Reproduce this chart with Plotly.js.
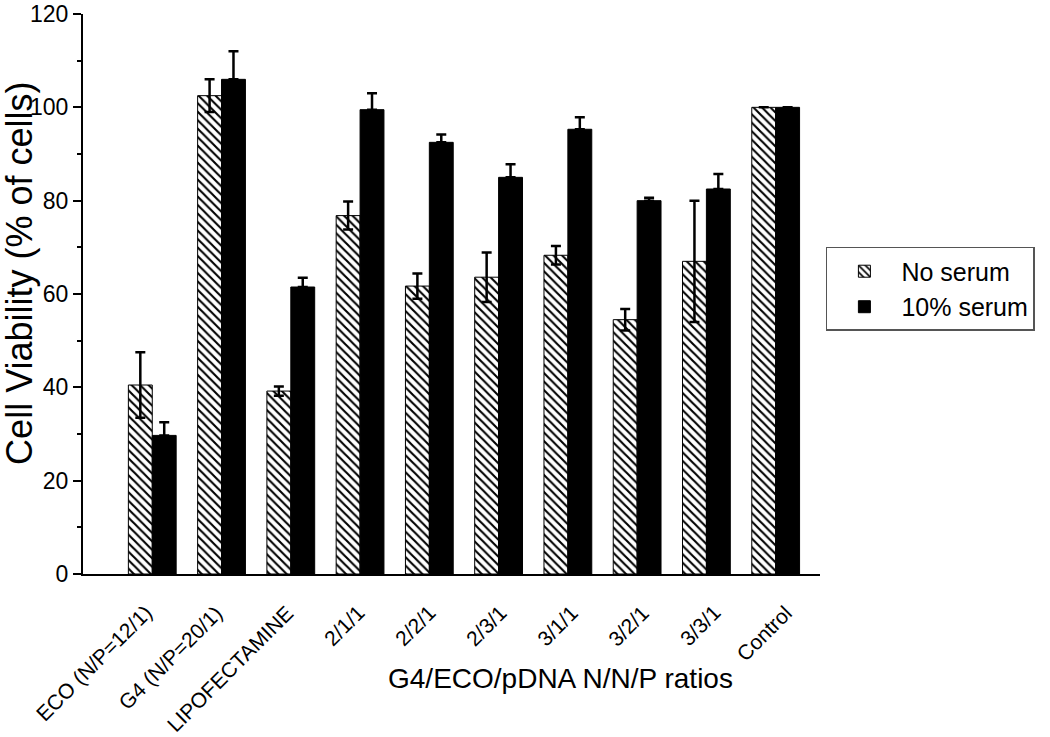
<!DOCTYPE html>
<html>
<head>
<meta charset="utf-8">
<script src="https://cdn.plot.ly/plotly-3.0.1.min.js"></script>
<style>
  html, body { margin: 0; padding: 0; background: #fff; }
  #plot { width: 1050px; height: 737px; }
</style>
</head>
<body>
<div id="plot"></div>
<script>
// categories and values
const groups = ['ECO (N/P=12/1)', 'G4 (N/P=20/1)', 'LIPOFECTAMINE', '2/1/1', '2/2/1',
                '2/3/1', '3/1/1', '3/2/1', '3/3/1', 'Control'];
const noSerum = [40.5, 102.5, 39.2, 76.8, 61.7, 63.6, 68.3, 54.5, 67.0, 100];
const noSerumErr = [7.0, 3.5, 1.0, 3.0, 2.7, 5.3, 2.0, 2.3, 13.0, 0];
const serum10 = [29.7, 106.0, 61.5, 99.5, 92.5, 85.0, 95.3, 80.0, 82.5, 100];
const serum10Err = [2.8, 6.0, 2.0, 3.5, 1.7, 2.8, 2.6, 0.6, 3.2, 0];
const zeros = serum10.map(() => 0);

const font = 'Liberation Sans, Arial, sans-serif';

const errStyle = { color: '#000', thickness: 2.5, width: 5 };

const hatched = {
  x: groups,
  y: noSerum,
  type: 'bar',
  name: 'No serum',
  marker: {
    color: '#fff',
    line: { color: '#000', width: 1 },
    pattern: { shape: '\\', fgcolor: '#000', bgcolor: '#fff', size: 6, solidity: 0.35 }
  },
  error_y: Object.assign({ type: 'data', array: noSerumErr, visible: true }, errStyle)
};

const solid = {
  x: groups,
  y: serum10,
  type: 'bar',
  name: '10% serum',
  marker: { color: '#000', line: { color: '#000', width: 1 } },
  error_y: Object.assign({ type: 'data', symmetric: false, array: serum10Err, arrayminus: zeros, visible: true }, errStyle)
};

// category labels: rotated, their upper end just right of each group
const tickNotes = groups.map((g, i) => ({
  x: g, xref: 'x', y: -0.043, yref: 'paper',
  xanchor: 'right', yanchor: 'top', xshift: 6 + 1.9 * i,
  text: g, textangle: -45, showarrow: false,
  font: { size: 21, family: font, color: '#000' }
}));

const titleNotes = [
  {
    x: 0.648, xref: 'paper', y: -0.186, yref: 'paper',
    xanchor: 'center', yanchor: 'middle', showarrow: false,
    text: 'G4/ECO/pDNA N/N/P ratios',
    font: { size: 28, family: font, color: '#000' }
  },
  {
    x: -0.087, xref: 'paper', y: 0.5375, yref: 'paper',
    xanchor: 'center', yanchor: 'middle', showarrow: false,
    text: 'Cell Viability (% of cells)', textangle: -90,
    font: { size: 36, family: font, color: '#000' }
  }
];

const layout = {
  width: 1050,
  height: 737,
  margin: { l: 83, r: 230, t: 14, b: 163 },
  paper_bgcolor: '#fff',
  plot_bgcolor: '#fff',
  font: { family: font, color: '#000' },
  barmode: 'group',
  bargap: 0.31,
  bargroupgap: 0,
  showlegend: true,
  legend: {
    x: 1.008, y: 0.584, xanchor: 'left', yanchor: 'top',
    bordercolor: '#555', borderwidth: 1.5,
    font: { size: 25, family: font },
    itemwidth: 64, tracegroupgap: 0
  },
  xaxis: {
    range: [-1, 9.64],
    showline: true, linecolor: '#000', linewidth: 2,
    ticks: '', showgrid: false, zeroline: false,
    showticklabels: false
  },
  yaxis: {
    range: [0, 120],
    dtick: 20,
    showline: true, linecolor: '#000', linewidth: 2,
    ticks: 'outside', ticklen: 8, tickwidth: 2, tickcolor: '#000',
    minor: { dtick: 10, ticks: 'outside', ticklen: 4, tickwidth: 1.5, tickcolor: '#000' },
    showgrid: false, zeroline: false,
    tickfont: { size: 23, family: font }
  },
  annotations: tickNotes.concat(titleNotes)
};

Plotly.newPlot('plot', [hatched, solid], layout, { displayModeBar: false });
</script>
</body>
</html>
